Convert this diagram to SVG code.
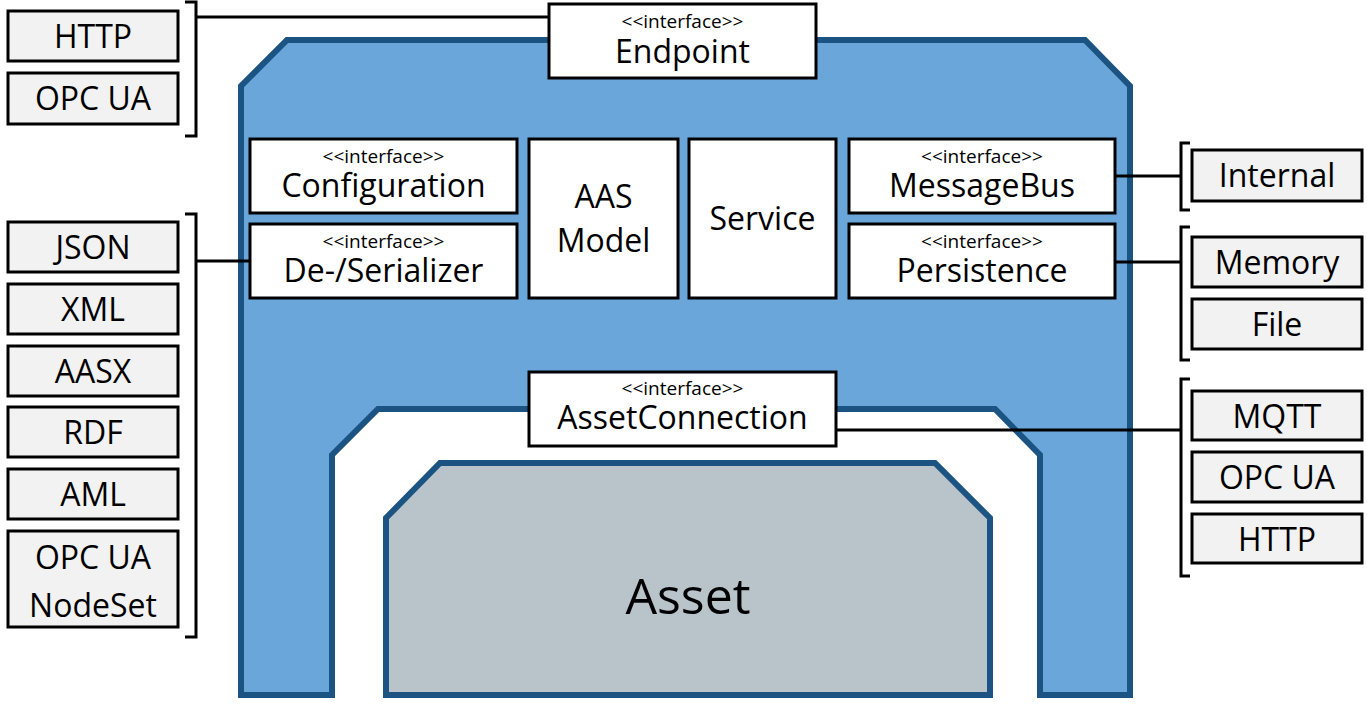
<svg xmlns="http://www.w3.org/2000/svg" width="1367" height="709" viewBox="0 0 1367 709">
<style>
text{font-family:"Open Sans","Noto Sans",sans-serif;fill:#000;text-anchor:middle}
.t{font-size:32px}
.s{font-size:19px}
.big{font-size:50px}
.ibox{fill:#fff;stroke:#000;stroke-width:3}
.gbox{fill:#f2f2f2;stroke:#000;stroke-width:3}
.outer{fill:#6aa6da;stroke:#1b5382;stroke-width:6;stroke-linejoin:miter}
.asset{fill:#b8c4ca;stroke:#1b5382;stroke-width:6}
.ln{fill:none;stroke:#000;stroke-width:3}
</style>
<rect width="1367" height="709" fill="#fff"/>
<g id="container">
<path class="outer" d="M241,695 L241,86 L287,40 L1085,40 L1130,86 L1130,695 L1040,695 L1040,455 L995,409 L378,409 L332,455 L332,695 Z"/>
</g>
<g id="asset">
<path class="asset" d="M386,695 L386,518 L440,463 L935,463 L990,518 L990,695 Z"/>
<text class="big" x="688" y="614">Asset</text>
</g>
<g id="connectors">
<path class="ln" d="M185,2 H196 V136 H185"/>
<path class="ln" d="M196,17 H549"/>
<path class="ln" d="M185,214 H196 V637 H185"/>
<path class="ln" d="M196,261 H250"/>
<path class="ln" d="M1190,143 H1181 V210 H1190"/>
<path class="ln" d="M1115,176 H1181"/>
<path class="ln" d="M1190,227 H1181 V360 H1190"/>
<path class="ln" d="M1115,262 H1181"/>
<path class="ln" d="M1190,379 H1181 V576 H1190"/>
<path class="ln" d="M836,430 H1181"/>
</g>
<g id="endpoint">
<rect class="ibox" x="549" y="4" width="267" height="74"/>
<text class="s" x="682.5" y="28">&lt;&lt;interface&gt;&gt;</text>
<text class="t" x="682.5" y="63">Endpoint</text>
</g>
<g id="configuration">
<rect class="ibox" x="250" y="139" width="267" height="74"/>
<text class="s" x="383.5" y="163">&lt;&lt;interface&gt;&gt;</text>
<text class="t" x="383.5" y="197">Configuration</text>
</g>
<g id="serializer">
<rect class="ibox" x="250" y="224" width="267" height="74"/>
<text class="s" x="383.5" y="248">&lt;&lt;interface&gt;&gt;</text>
<text class="t" x="383.5" y="282">De-/Serializer</text>
</g>
<g id="aasmodel">
<rect class="ibox" x="529" y="139" width="149" height="159"/>
<text class="t" x="603.5" y="208">AAS</text>
<text class="t" x="603.5" y="252">Model</text>
</g>
<g id="service">
<rect class="ibox" x="689" y="139" width="147" height="159"/>
<text class="t" x="762.5" y="230">Service</text>
</g>
<g id="messagebus">
<rect class="ibox" x="849" y="139" width="266" height="74"/>
<text class="s" x="982" y="163">&lt;&lt;interface&gt;&gt;</text>
<text class="t" x="982" y="197">MessageBus</text>
</g>
<g id="persistence">
<rect class="ibox" x="849" y="224" width="266" height="74"/>
<text class="s" x="982" y="248">&lt;&lt;interface&gt;&gt;</text>
<text class="t" x="982" y="282">Persistence</text>
</g>
<g id="assetconnection">
<rect class="ibox" x="529" y="372" width="307" height="74"/>
<text class="s" x="682.5" y="395">&lt;&lt;interface&gt;&gt;</text>
<text class="t" x="682.5" y="429">AssetConnection</text>
</g>
<g id="ep-http"><rect class="gbox" x="8" y="11" width="170" height="50"/><text class="t" x="93" y="48">HTTP</text></g>
<g id="ep-opcua"><rect class="gbox" x="8" y="73" width="170" height="51"/><text class="t" x="93" y="110">OPC UA</text></g>
<g id="ser-json"><rect class="gbox" x="8" y="222" width="170" height="50"/><text class="t" x="93" y="259">JSON</text></g>
<g id="ser-xml"><rect class="gbox" x="8" y="284" width="170" height="50"/><text class="t" x="93" y="321">XML</text></g>
<g id="ser-aasx"><rect class="gbox" x="8" y="346" width="170" height="50"/><text class="t" x="93" y="383">AASX</text></g>
<g id="ser-rdf"><rect class="gbox" x="8" y="407" width="170" height="50"/><text class="t" x="93" y="444">RDF</text></g>
<g id="ser-aml"><rect class="gbox" x="8" y="469" width="170" height="50"/><text class="t" x="93" y="506">AML</text></g>
<g id="ser-nodeset"><rect class="gbox" x="8" y="531" width="170" height="96"/><text class="t" x="93" y="569">OPC UA</text><text class="t" x="93" y="617">NodeSet</text></g>
<g id="mb-internal"><rect class="gbox" x="1192" y="150" width="170" height="51"/><text class="t" x="1277" y="187">Internal</text></g>
<g id="p-memory"><rect class="gbox" x="1192" y="237" width="170" height="50"/><text class="t" x="1277" y="274">Memory</text></g>
<g id="p-file"><rect class="gbox" x="1192" y="299" width="170" height="50"/><text class="t" x="1277" y="336">File</text></g>
<g id="ac-mqtt"><rect class="gbox" x="1192" y="391" width="170" height="49"/><text class="t" x="1277" y="428">MQTT</text></g>
<g id="ac-opcua"><rect class="gbox" x="1192" y="452" width="170" height="50"/><text class="t" x="1277" y="489">OPC UA</text></g>
<g id="ac-http"><rect class="gbox" x="1192" y="514" width="170" height="49"/><text class="t" x="1277" y="551">HTTP</text></g>
</svg>
